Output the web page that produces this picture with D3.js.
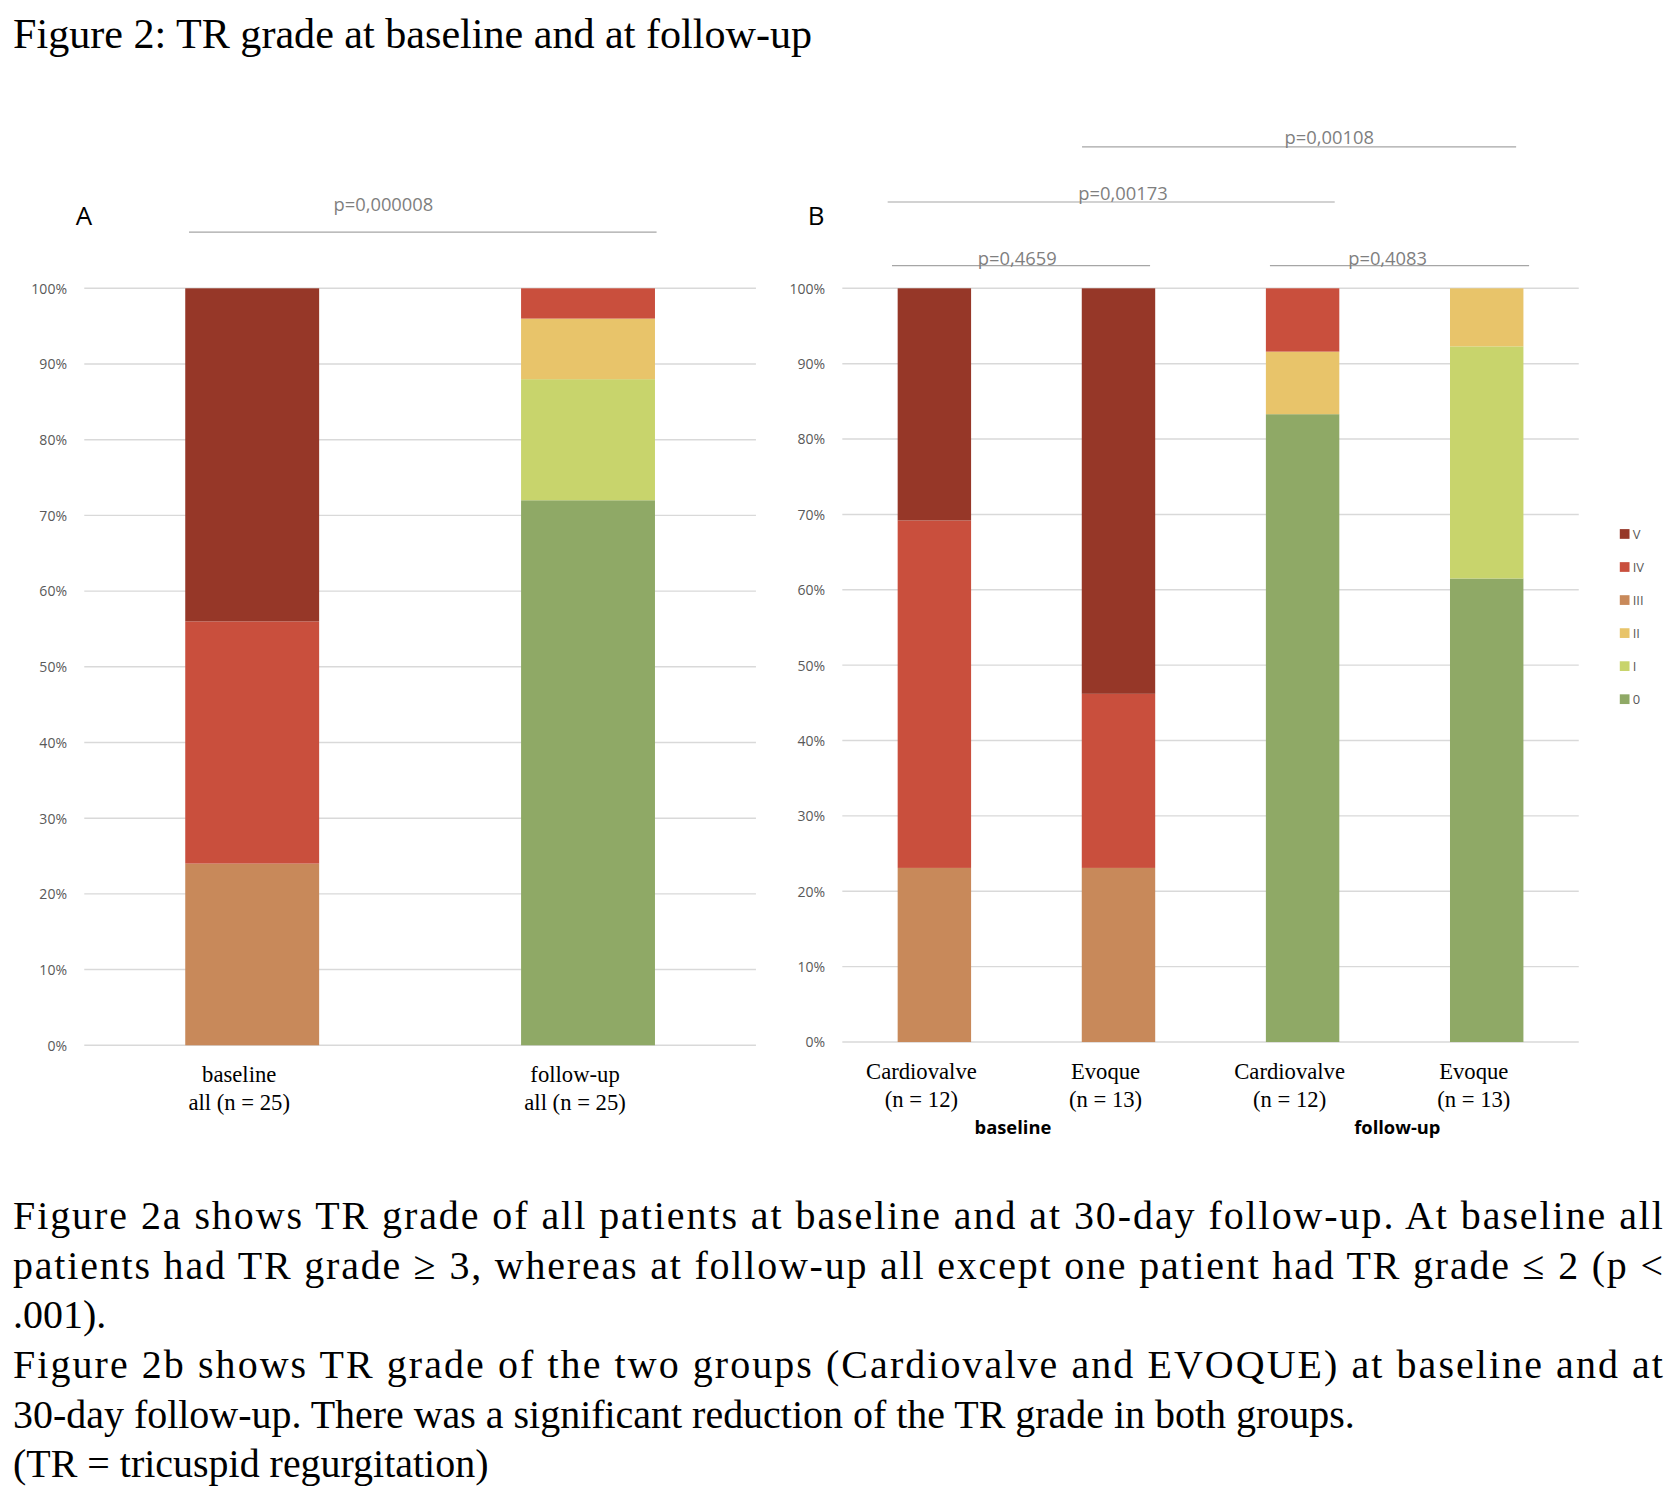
<!DOCTYPE html>
<html><head><meta charset="utf-8">
<script src="https://cdn.jsdelivr.net/npm/d3@7"></script>
<style>body{margin:0;background:#fff}</style>
</head><body>
<script>
// grades, bottom to top
var grades = ["0", "I", "II", "III", "IV", "V"];
var colors = ["#8fa966", "#c8d46c", "#e8c46a", "#c8895a", "#c94f3d", "#963728"];
var ticks = [0, 10, 20, 30, 40, 50, 60, 70, 80, 90, 100];

// panel A
var catsA = ["baseline|all (n = 25)", "follow-up|all (n = 25)"];
var valsA = [
  [0, 0, 0, 24, 32, 44],
  [72, 16, 8, 0, 4, 0]
];
// panel B
var catsB = ["Cardiovalve|(n = 12)", "Evoque|(n = 13)", "Cardiovalve|(n = 12)", "Evoque|(n = 13)"];
var valsB = [
  [0, 0, 0, 23.1, 46.1, 30.8],
  [0, 0, 0, 23.1, 23.1, 53.8],
  [83.3, 0, 8.3, 0, 8.4, 0],
  [61.5, 30.8, 7.7, 0, 0, 0]
];
var pA = [{t: "p=0,000008", x1: 175, x2: 608, y: 215, tx: 355, ty: 195}];
var pB = [
  {t: "p=0,4659", x1: 826, x2: 1065, y: 246, tx: 942, ty: 245},
  {t: "p=0,4083", x1: 1176, x2: 1416, y: 246, tx: 1285, ty: 245},
  {t: "p=0,00173", x1: 822, x2: 1236, y: 187, tx: 1040, ty: 185},
  {t: "p=0,00108", x1: 1002, x2: 1404, y: 136, tx: 1231, ty: 133}
];
var caption = [
  "Figure 2a shows TR grade of all patients at baseline and at 30-day follow-up. At baseline all",
  "patients had TR grade \u2265 3, whereas at follow-up all except one patient had TR grade \u2264 2 (p <",
  ".001).",
  "Figure 2b shows TR grade of the two groups (Cardiovalve and EVOQUE) at baseline and at",
  "30-day follow-up. There was a significant reduction of the TR grade in both groups.",
  "(TR = tricuspid regurgitation)"
];
var justified = [true, true, false, true, false, false];

var svg = d3.select("body").append("svg")
  .attr("width", 1676).attr("height", 1488)
  .attr("viewBox", "0 0 1552 1378");

var serif = "'Liberation Serif', 'Times New Roman', serif";
var sans = "'Open Sans', 'DejaVu Sans', sans-serif";

svg.append("text").attr("x", 12).attr("y", 44)
  .style("font-family", serif).style("font-size", "39px")
  .text("Figure 2: TR grade at baseline and at follow-up");

function panel(cats, vals, gx0, gx1, y0, y1, bw, letter, lx) {
  var y = d3.scaleLinear().domain([0, 100]).range([y0, y1]);
  var x = d3.scaleBand().domain(d3.range(cats.length)).range([gx0, gx1]).padding(0);
  var g = svg.append("g");
  g.selectAll(".grid").data(ticks).enter().append("line")
    .attr("x1", gx0).attr("x2", gx1)
    .attr("y1", d => y(d)).attr("y2", d => y(d))
    .attr("stroke", "#d9d9d9").attr("stroke-width", 1.3);
  g.selectAll(".tl").data(ticks).enter().append("text")
    .attr("x", gx0 - 16).attr("y", d => y(d) + 5)
    .attr("text-anchor", "end")
    .style("font-family", sans).style("font-size", "13px").style("fill", "#595959")
    .text(d => d + "%");
  vals.forEach(function (v, i) {
    var cx = x(i) + x.bandwidth() / 2;
    var acc = 0;
    v.forEach(function (val, j) {
      if (val > 0) {
        g.append("rect").attr("x", cx - bw / 2).attr("width", bw)
          .attr("y", y(acc + val)).attr("height", y(acc) - y(acc + val))
          .attr("fill", colors[j]);
      }
      acc += val;
    });
    var parts = cats[i].split("|");
    parts.forEach(function (p, k) {
      g.append("text").attr("x", cx - 12).attr("y", y0 + 34 + k * 26)
        .attr("text-anchor", "middle")
        .style("font-family", serif).style("font-size", "21px")
        .text(p);
    });
  });
  svg.append("text").attr("x", lx).attr("y", 208)
    .style("font-family", sans).style("font-size", "24px").text(letter);
  return x;
}

panel(catsA, valsA, 78, 700, 968, 267, 124, "A", 70);
panel(catsB, valsB, 780, 1462, 965, 267, 68, "B", 748);

[{t: "baseline", x: 938}, {t: "follow-up", x: 1294}].forEach(function (d) {
  svg.append("text").attr("x", d.x).attr("y", 1050).attr("text-anchor", "middle")
    .style("font-family", sans).style("font-size", "17px").style("font-weight", "bold")
    .text(d.t);
});

pA.concat(pB).forEach(function (d) {
  svg.append("line").attr("x1", d.x1).attr("x2", d.x2).attr("y1", d.y).attr("y2", d.y)
    .attr("stroke", "#a6a6a6").attr("stroke-width", 1);
  svg.append("text").attr("x", d.tx).attr("y", d.ty).attr("text-anchor", "middle")
    .style("font-family", sans).style("font-size", "17px").style("fill", "#7f7f7f")
    .text(d.t);
});

// legend, top = V
var leg = svg.append("g");
grades.slice().reverse().forEach(function (gname, i) {
  var j = grades.length - 1 - i;
  leg.append("rect").attr("x", 1500).attr("y", 490 + i * 30.6).attr("width", 9).attr("height", 9)
    .attr("fill", colors[j]);
  leg.append("text").attr("x", 1512).attr("y", 499 + i * 30.6)
    .style("font-family", sans).style("font-size", "12px").style("fill", "#595959")
    .text(gname);
});

caption.forEach(function (c, i) {
  var t = svg.append("text").attr("x", 12).attr("y", 1138 + i * 46)
    .style("font-family", serif).style("font-size", "37px")
    .text(c);
  if (justified[i]) t.attr("textLength", 1528).attr("lengthAdjust", "spacing");
});
</script>
</body></html>
